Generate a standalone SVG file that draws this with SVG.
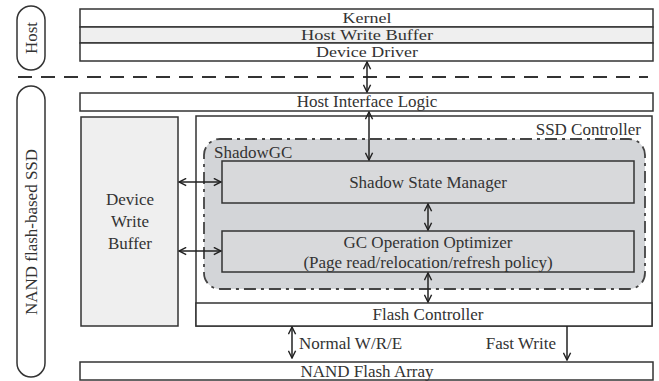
<svg xmlns="http://www.w3.org/2000/svg" width="659" height="381" viewBox="0 0 659 381">
<defs>
<marker id="ah" viewBox="0 0 10 10" refX="9" refY="5" markerWidth="9" markerHeight="9" markerUnits="userSpaceOnUse" orient="auto-start-reverse">
<path d="M1,1 L9,5 L1,9" fill="none" stroke="#222" stroke-width="1.6"/>
</marker>
</defs>
<style>
.box{fill:#fff;stroke:#333;stroke-width:1.5}
.gray{fill:#efefef;stroke:#333;stroke-width:1.5}
.inner{fill:#d8d9db;stroke:#333;stroke-width:1.5}
.pill{fill:#fff;stroke:#333;stroke-width:1.5}
.t{font-family:"Liberation Serif","Times New Roman","DejaVu Serif",serif;font-size:17px;fill:#333}
.s{font-size:15px}
.c{text-anchor:middle}
.conn{stroke:#222;stroke-width:1.5;fill:none;marker-end:url(#ah)}
.both{marker-start:url(#ah)}
</style>
<rect width="659" height="381" fill="#fff"/>
<g id="host-pill">
<rect class="pill" x="17" y="6" width="28" height="64" rx="14"/>
<text class="t c" transform="translate(37,38) rotate(-90)">Host</text>
</g>
<g id="ssd-pill">
<rect class="pill" x="17" y="86" width="28" height="291" rx="14"/>
<text class="t c" transform="translate(37,232) rotate(-90)">NAND flash-based SSD</text>
</g>
<line x1="18" y1="77" x2="648" y2="77" stroke="#333" stroke-width="2" stroke-dasharray="14,9"/>
<g id="kernel">
<rect class="box" x="80" y="9" width="573" height="18"/>
<text class="t s c" x="367" y="23" textLength="49" lengthAdjust="spacingAndGlyphs">Kernel</text>
</g>
<g id="host-write-buffer">
<rect class="gray" x="80" y="27" width="573" height="16"/>
<text class="t s c" x="367" y="39.5" textLength="132" lengthAdjust="spacingAndGlyphs">Host Write Buffer</text>
</g>
<g id="device-driver">
<rect class="box" x="80" y="43" width="573" height="18"/>
<text class="t s c" x="367" y="57" textLength="102" lengthAdjust="spacingAndGlyphs">Device Driver</text>
</g>
<g id="host-interface-logic">
<rect class="box" x="80" y="93" width="573" height="18"/>
<text class="t c" x="367" y="107">Host Interface Logic</text>
</g>
<g id="device-write-buffer">
<rect class="gray" x="81" y="117" width="97" height="209"/>
<text class="t c" x="130" y="205">Device</text>
<text class="t c" x="130" y="227">Write</text>
<text class="t c" x="130" y="249">Buffer</text>
</g>
<g id="ssd-controller">
<rect class="box" x="196" y="116" width="456" height="210"/>
<text class="t" x="641" y="135" text-anchor="end">SSD Controller</text>
</g>
<g id="shadowgc">
<rect x="204" y="139" width="441" height="150" rx="16" fill="#d3d5d8" stroke="#444" stroke-width="1.8" stroke-dasharray="12,5,3,5"/>
<text class="t" x="214" y="158">ShadowGC</text>
</g>
<g id="shadow-state-manager">
<rect class="inner" x="222" y="161" width="412" height="42"/>
<text class="t c" x="428" y="188">Shadow State Manager</text>
</g>
<g id="gc-operation-optimizer">
<rect class="inner" x="222" y="231" width="412" height="41"/>
<text class="t c" x="428" y="248">GC Operation Optimizer</text>
<text class="t c" x="428" y="268">(Page read/relocation/refresh policy)</text>
</g>
<g id="flash-controller">
<rect class="box" x="196" y="303" width="456" height="23"/>
<text class="t c" x="428" y="320">Flash Controller</text>
</g>
<g id="nand-flash-array">
<rect class="box" x="80" y="362" width="573" height="18"/>
<text class="t c" x="367" y="377">NAND Flash Array</text>
</g>
<g id="connectors">
<line class="conn both" x1="367" y1="62" x2="367" y2="92"/>
<line class="conn both" x1="369" y1="112" x2="369" y2="160"/>
<line class="conn both" x1="428" y1="204" x2="428" y2="230"/>
<line class="conn both" x1="428" y1="273" x2="428" y2="302"/>
<line class="conn both" x1="179" y1="182" x2="221" y2="182"/>
<line class="conn both" x1="179" y1="251" x2="221" y2="251"/>
<line class="conn both" x1="292" y1="327" x2="292" y2="358"/>
<line class="conn" x1="567" y1="326" x2="567" y2="360"/>
<text class="t" x="299" y="349">Normal W/R/E</text>
<text class="t" x="556" y="349" text-anchor="end">Fast Write</text>
</g>
</svg>
